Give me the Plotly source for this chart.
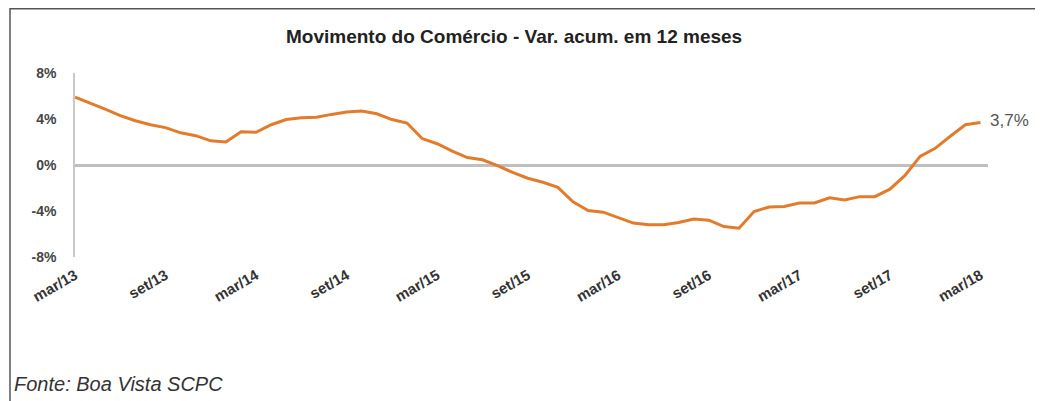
import plotly.graph_objects as go

# monthly index 0 = mar/13 ... 60 = mar/18
months = list(range(61))
values = [5.9, 5.4, 4.85, 4.3, 3.85, 3.5, 3.25, 2.8, 2.55, 2.1,
          2.0, 2.9, 2.85, 3.5, 3.95, 4.1, 4.15, 4.4, 4.6, 4.7,
          4.45, 3.95, 3.65, 2.3, 1.85, 1.2, 0.65, 0.45, -0.05, -0.65,
          -1.15, -1.5, -1.95, -3.2, -3.95, -4.1, -4.55, -5.05, -5.2, -5.2,
          -5.0, -4.7, -4.8, -5.35, -5.5, -4.05, -3.65, -3.6, -3.3, -3.3,
          -2.85, -3.05, -2.75, -2.75, -2.1, -0.9, 0.75, 1.45, 2.5, 3.5,
          3.7]
tick_pos = [0, 6, 12, 18, 24, 30, 36, 42, 48, 54, 60]
tick_text = ["mar/13", "set/13", "mar/14", "set/14", "mar/15", "set/15",
             "mar/16", "set/16", "mar/17", "set/17", "mar/18"]
y_ticks = [-8, -4, 0, 4, 8]
y_text = ["-8%", "-4%", "0%", "4%", "8%"]
title = "Movimento do Comércio - Var. acum. em 12 meses"
source = "Fonte: Boa Vista SCPC"
last_label = "3,7%"

OFF = 8  # page body margin
W, H = 1043 - OFF, 401 - OFF
# plot area in page pixels: x 75..988, y 73..257
ML, MT = 75 - OFF, 73 - OFF
MR = W - (988 - OFF)
MB = H - (257 - OFF)
PW, PH = W - ML - MR, H - MT - MB

def px(x):
    return (x - OFF - ML) / PW

def py(y):
    return (H - MB - (y - OFF)) / PH

FONT = "Arial, Liberation Sans, sans-serif"

fig = go.Figure()
fig.add_trace(go.Scatter(x=months, y=values, mode="lines",
                         line=dict(color="#E27B2B", width=3),
                         hoverinfo="skip", showlegend=False))

fig.add_annotation(x=months[-1], y=values[-1], text=last_label, showarrow=False,
                   xanchor="left", xshift=8, yshift=2,
                   font=dict(family=FONT, size=17, color="#555555"))
fig.add_annotation(xref="paper", yref="paper", x=px(514), y=py(36), text="<b>" + title + "</b>",
                   showarrow=False, xanchor="center", yanchor="middle",
                   font=dict(family=FONT, size=19, color="#222222"))
fig.add_annotation(xref="paper", yref="paper", x=px(12), y=py(384), text="<i>" + source + "</i>",
                   showarrow=False, xanchor="left", yanchor="middle",
                   font=dict(family=FONT, size=20, color="#333333"))

# outer frame (left, top, right)
x0, x1, yt, yb = px(10), px(1039), py(8.7), py(420)
fig.add_shape(type="path", xref="paper", yref="paper",
              path=f"M {x0},{yb} L {x0},{yt} L {x1},{yt} L {x1},{yb}",
              line=dict(color="#555555", width=1.5))

fig.update_layout(
    width=W, height=H,
    margin=dict(l=ML, r=MR, t=MT, b=MB, autoexpand=False),
    paper_bgcolor="white", plot_bgcolor="white",
    xaxis=dict(range=[0, 60.5], tickvals=tick_pos, ticktext=[f"<b>{t}</b>" for t in tick_text],
               tickangle=-30, showgrid=False, zeroline=False, showline=False,
               ticks="", ticklabelstandoff=6,
               tickfont=dict(family=FONT, size=15, color="#333333")),
    yaxis=dict(range=[-8, 8], tickvals=y_ticks, ticktext=[f"<b>{t}</b>" for t in y_text],
               showgrid=False, zeroline=True, zerolinecolor="#BFBFBF", zerolinewidth=2.5,
               showline=True, linecolor="#C8C8C8", linewidth=1.5, ticks="",
               ticklabelstandoff=14,
               tickfont=dict(family=FONT, size=14, color="#444444")),
)

fig.write_html("out.html")
